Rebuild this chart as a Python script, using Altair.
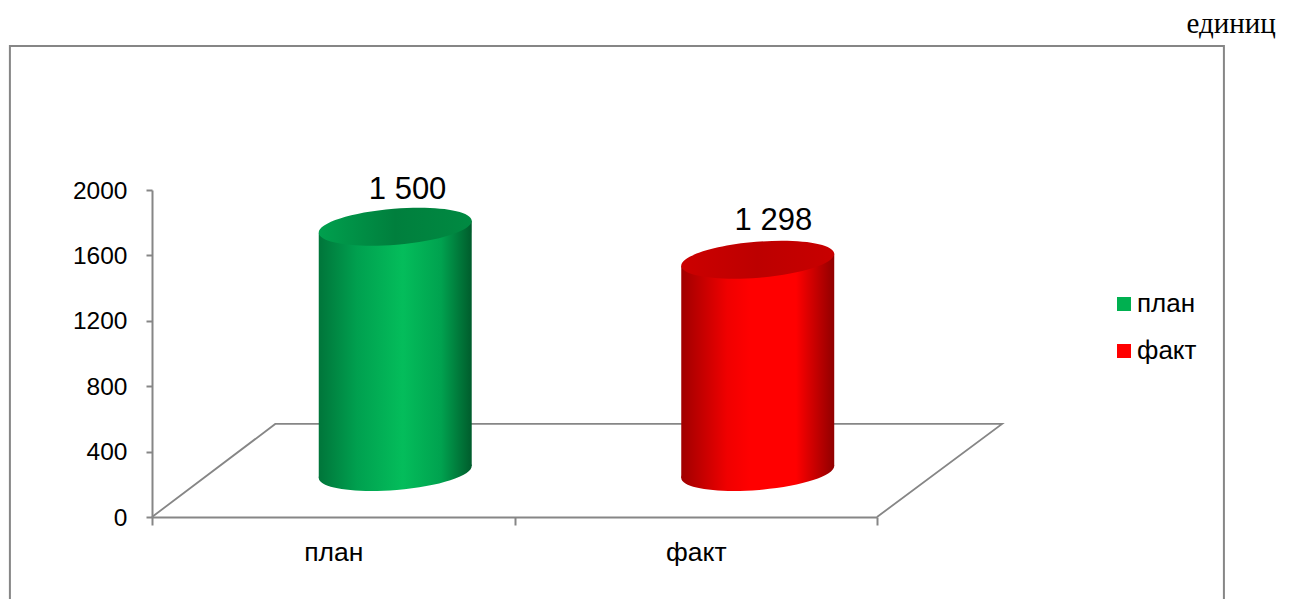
import math
import altair as alt
import pandas as pd

categories = ["план", "факт"]
values = [1500, 1298]
value_labels = ["1 500", "1 298"]
y_ticks = [0, 400, 800, 1200, 1600, 2000]
unit_label = "единиц"
legend_colors = ["#00B050", "#FF0000"]

FONT = "Liberation Sans"
GRID = "#868686"
Y_DOMAIN = [0, 2000]
X_DOMAIN = [0, 2]
PLOT_W, PLOT_H = 725, 327

# 3-D projection of the chart: how far the cylinders sit behind the front plane
DEPTH_X = 0.171
HALF_W = 0.211
TILT = 37
DEPTH_PX = -45
LABEL_DX = [0.705, 0.714]
LABEL_DY = [-73, -75]

body_stops = [
    [(0, "#00753a"), (0.25, "#00a04f"), (0.55, "#04bd5b"), (0.8, "#00a24f"), (1, "#005c2c")],
    [(0, "#a00000"), (0.3, "#f00000"), (0.45, "#ff0000"), (0.75, "#ff0000"), (1, "#900000")],
]
top_stops = [
    [(0, "#00a04e"), (0.5, "#007f3d"), (1, "#008a42")],
    [(0, "#cc0000"), (0.5, "#bd0000"), (1, "#c80000")],
]


def gradient(stops):
    return alt.LinearGradient(
        gradient="linear", x1=0, x2=1, y1=0, y2=0,
        stops=[alt.GradientStop(offset=o, color=c) for o, c in stops],
    )


def ellipse_path(a=1.003, b=0.235, deg=-4.7):
    t = math.radians(deg)
    k = 0.5523
    ring = [(-a, 0), (-a, -k * b), (-k * a, -b), (0, -b), (k * a, -b), (a, -k * b), (a, 0),
            (a, k * b), (k * a, b), (0, b), (-k * a, b), (-a, k * b), (-a, 0)]
    pts = [(x * math.cos(t) - y * math.sin(t), x * math.sin(t) + y * math.cos(t)) for x, y in ring]
    f = lambda p: f"{p[0]:.4f},{p[1]:.4f}"
    d = "M" + f(pts[0])
    for i in range(1, 13, 3):
        d += "C" + " ".join(f(p) for p in pts[i:i + 3])
    return d + "Z"


ELLIPSE = ellipse_path()
ELLIPSE_SIZE = 153 ** 2

y_axis = alt.Axis(values=y_ticks, grid=False, labelFont=FONT, labelFontSize=24.5, labelColor="#000000",
                  domainColor=GRID, tickColor=GRID, domainWidth=2, tickWidth=2, tickSize=6,
                  labelPadding=19, labelOffset=1, format="d", title=None)

x_q = lambda field: alt.X(field, type="quantitative", axis=None,
                          scale=alt.Scale(domain=X_DOMAIN, nice=False, zero=False))
y_q = lambda field: alt.Y(field, type="quantitative", axis=y_axis,
                          scale=alt.Scale(domain=Y_DOMAIN, nice=False))

# frame
frame = alt.Chart(pd.DataFrame({"x": [-0.392], "x2": [2.957], "y": [2881], "y2": [-800]})).mark_rect(
    filled=False, stroke=GRID, strokeWidth=2
).encode(x=x_q("x"), x2="x2:Q", y=y_q("y"), y2="y2:Q")

# floor of the 3-D box
floor = alt.Chart(pd.DataFrame({
    "x": [0, 0.34, 2.345, 2],
    "y": [0, 569, 569, 0],
    "o": [0, 1, 2, 3],
})).mark_line(color=GRID, strokeWidth=1.8).encode(x=x_q("x"), y=y_q("y"), order="o:Q")

# axes and legend
base_df = pd.DataFrame({"cat": categories, "value": values})
axes = alt.Chart(base_df).mark_bar(opacity=0).encode(
    x=alt.X("cat:N", title=None, sort=categories,
            scale=alt.Scale(domain=categories, paddingInner=0, paddingOuter=0),
            axis=alt.Axis(tickBand="extent", labelAngle=0, grid=False, labelFont=FONT, labelFontSize=26.5,
                          labelColor="#000000", domainColor=GRID, tickColor=GRID, domainWidth=2,
                          tickWidth=2, tickSize=8, labelPadding=14)),
    y=y_q("value"),
    color=alt.Color("cat:N", sort=categories,
                    scale=alt.Scale(domain=categories, range=legend_colors),
                    legend=alt.Legend(title=None, orient="none", legendX=959, legendY=101,
                                      symbolType="square", symbolSize=196, symbolOpacity=1,
                                      symbolStrokeWidth=0, labelFont=FONT, labelFontSize=26,
                                      labelColor="#000000", labelOffset=0, rowPadding=21)),
)

layers = [frame, floor, axes]

for i, (cat, val, lab) in enumerate(zip(categories, values, value_labels)):
    c = i + 0.5 + DEPTH_X
    body = pd.DataFrame({
        "x": [c - HALF_W, c + HALF_W],
        "top": [val - TILT, val + TILT],
        "base": [-TILT, TILT],
    })
    layers.append(
        alt.Chart(body).mark_area(fill=gradient(body_stops[i]), yOffset=DEPTH_PX, y2Offset=DEPTH_PX).encode(
            x=x_q("x"), y=y_q("top"), y2="base:Q"
        )
    )
    layers.append(
        alt.Chart(pd.DataFrame({"x": [c], "y": [0]})).mark_point(
            shape=ELLIPSE, size=ELLIPSE_SIZE, filled=True, opacity=1, strokeWidth=0,
            fill=gradient(body_stops[i]), yOffset=DEPTH_PX,
        ).encode(x=x_q("x"), y=y_q("y"))
    )
    layers.append(
        alt.Chart(pd.DataFrame({"x": [c], "y": [val]})).mark_point(
            shape=ELLIPSE, size=ELLIPSE_SIZE, filled=True, opacity=1, strokeWidth=0,
            fill=gradient(top_stops[i]), yOffset=DEPTH_PX,
        ).encode(x=x_q("x"), y=y_q("y"))
    )
    layers.append(
        alt.Chart(pd.DataFrame({"x": [i + LABEL_DX[i]], "y": [val], "t": [lab]})).mark_text(
            font=FONT, fontSize=31, color="#000000", baseline="alphabetic", yOffset=LABEL_DY[i]
        ).encode(x=x_q("x"), y=y_q("y"), text="t:N")
    )

unit = alt.Chart(pd.DataFrame({"x": [3.1], "y": [2960], "t": [unit_label]})).mark_text(
    font="Liberation Serif", fontSize=29, color="#000000", align="right", baseline="alphabetic"
).encode(x=x_q("x"), y=y_q("y"), text="t:N")
layers.append(unit)

chart = (
    alt.layer(*layers)
    .resolve_scale(x="independent")
    .properties(
        width=PLOT_W, height=PLOT_H,
        padding={"left": 144, "top": 182, "right": 405, "bottom": 82},
        autosize=alt.AutoSizeParams(type="none"),
        background="#ffffff",
    )
    .configure_view(stroke=None)
)

chart.save("out.html", embed_options={"renderer": "svg", "actions": False})
